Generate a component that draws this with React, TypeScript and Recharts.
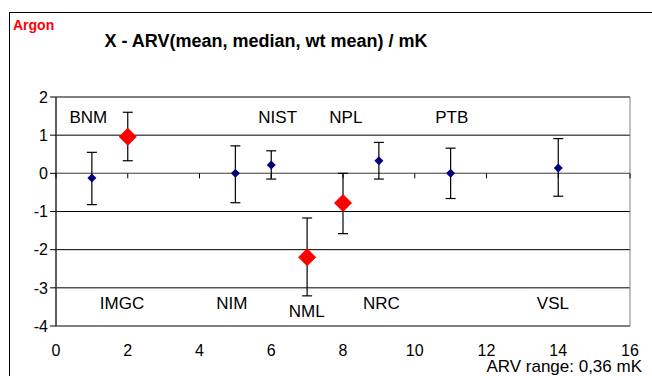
import React from 'react';
import {
  ScatterChart,
  Scatter,
  XAxis,
  YAxis,
  CartesianGrid,
  ErrorBar,
  ReferenceLine,
  ReferenceArea,
  ReferenceDot,
} from 'recharts';

// participants shown as small blue points
const blueX = [1, 5, 6, 9, 11, 14];
const blueMean = [-0.12, 0.0, 0.22, 0.33, 0.0, 0.14];
const blueLow = [-0.82, -0.77, -0.15, -0.15, -0.66, -0.6];
const blueHigh = [0.55, 0.72, 0.59, 0.81, 0.66, 0.91];

// participants shown as large red points
const redX = [2, 7, 8];
const redMean = [0.96, -2.2, -0.78];
const redLow = [0.33, -3.21, -1.58];
const redHigh = [1.6, -1.17, 0.0];

// lab names
const labNames = ['BNM', 'NIST', 'NPL', 'PTB', 'IMGC', 'NIM', 'NML', 'NRC', 'VSL'];
const labX = [0.9, 6.18, 8.08, 11.03, 1.84, 4.9, 6.99, 9.07, 13.85];
const labY = [1.47, 1.47, 1.47, 1.47, -3.42, -3.42, -3.62, -3.42, -3.42];

const xTicks = [0, 2, 4, 6, 8, 10, 12, 14, 16];
const yTicks = [-4, -3, -2, -1, 0, 1, 2];

const toRows = (xs: number[], m: number[], lo: number[], hi: number[]) =>
  xs.map((x, i) => ({ x, y: m[i], err: [m[i] - lo[i], hi[i] - m[i]] }));

const blueData = toRows(blueX, blueMean, blueLow, blueHigh);
const redData = toRows(redX, redMean, redLow, redHigh);
const labelData = labNames.map((name, i) => ({ x: labX[i], y: labY[i], name }));

const diamond = (half: number, fill: string) => (props: any) => {
  const { cx, cy } = props;
  return (
    <polygon
      points={`${cx},${cy - half} ${cx + half},${cy} ${cx},${cy + half} ${cx - half},${cy}`}
      fill={fill}
    />
  );
};

const labelShape = (props: any) => (
  <text
    x={props.cx}
    y={props.cy}
    textAnchor="middle"
    dominantBaseline="central"
    fontSize={17}
    fill="#000"
  >
    {props.payload.name}
  </text>
);

const axisTick = (props: any) => (
  <line x1={props.cx} y1={props.cy} x2={props.cx} y2={props.cy + 5} stroke="#000" />
);

const font = 'Arial, "Liberation Sans", sans-serif';

export default function App() {
  return (
    <div
      style={{
        position: 'absolute',
        left: 0,
        top: 0,
        width: 652,
        height: 376,
        background: '#fff',
        fontFamily: font,
        overflow: 'hidden',
      }}
    >
      <div
        style={{
          position: 'absolute',
          left: 9,
          top: 12,
          width: 700,
          height: 400,
          borderLeft: '1px solid #000',
          borderTop: '1px solid #000',
        }}
      />
      <div
        style={{
          position: 'absolute',
          left: 13,
          top: 17,
          color: '#ff0000',
          fontWeight: 'bold',
          fontSize: 14,
        }}
      >
        Argon
      </div>
      <div
        style={{
          position: 'absolute',
          left: 0,
          width: 532,
          top: 31,
          textAlign: 'center',
          fontWeight: 'bold',
          fontSize: 18,
        }}
      >
        X - ARV(mean, median, wt mean) / mK
      </div>
      <div style={{ position: 'absolute', left: 0, top: 0 }}>
        <ScatterChart
          width={652}
          height={376}
          margin={{ top: 97, right: 22, left: 10, bottom: 20 }}
        >
          <CartesianGrid horizontal vertical={false} stroke="#000" />
          <XAxis
            type="number"
            dataKey="x"
            domain={[0, 16]}
            ticks={xTicks}
            axisLine={false}
            tickLine={false}
            tickMargin={13}
            height={30}
            tick={{ fill: '#000', fontSize: 16 }}
          />
          <YAxis
            type="number"
            dataKey="y"
            domain={[-4, 2]}
            ticks={yTicks}
            width={46}
            stroke="#000"
            tick={{ fill: '#000', fontSize: 16 }}
          />
          <ReferenceArea x1={0} x2={16} y1={-4} y2={2} fill="none" stroke="#808080" />
          <ReferenceLine y={0} stroke="#808080" />
          {xTicks.map((t) => (
            <ReferenceDot key={t} x={t} y={0} shape={axisTick} />
          ))}
          <Scatter data={blueData} shape={diamond(4.5, '#000080')} isAnimationActive={false}>
            <ErrorBar dataKey="err" direction="y" width={5} stroke="#000" strokeWidth={1.2} isAnimationActive={false} />
          </Scatter>
          <Scatter data={redData} shape={diamond(9, '#ff0000')} isAnimationActive={false}>
            <ErrorBar dataKey="err" direction="y" width={5} stroke="#000" strokeWidth={1.2} isAnimationActive={false} />
          </Scatter>
          <Scatter data={labelData} shape={labelShape} isAnimationActive={false} />
        </ScatterChart>
      </div>
      <div
        style={{
          position: 'absolute',
          right: 10,
          top: 357,
          fontSize: 17,
        }}
      >
        ARV range: 0,36 mK
      </div>
    </div>
  );
}
